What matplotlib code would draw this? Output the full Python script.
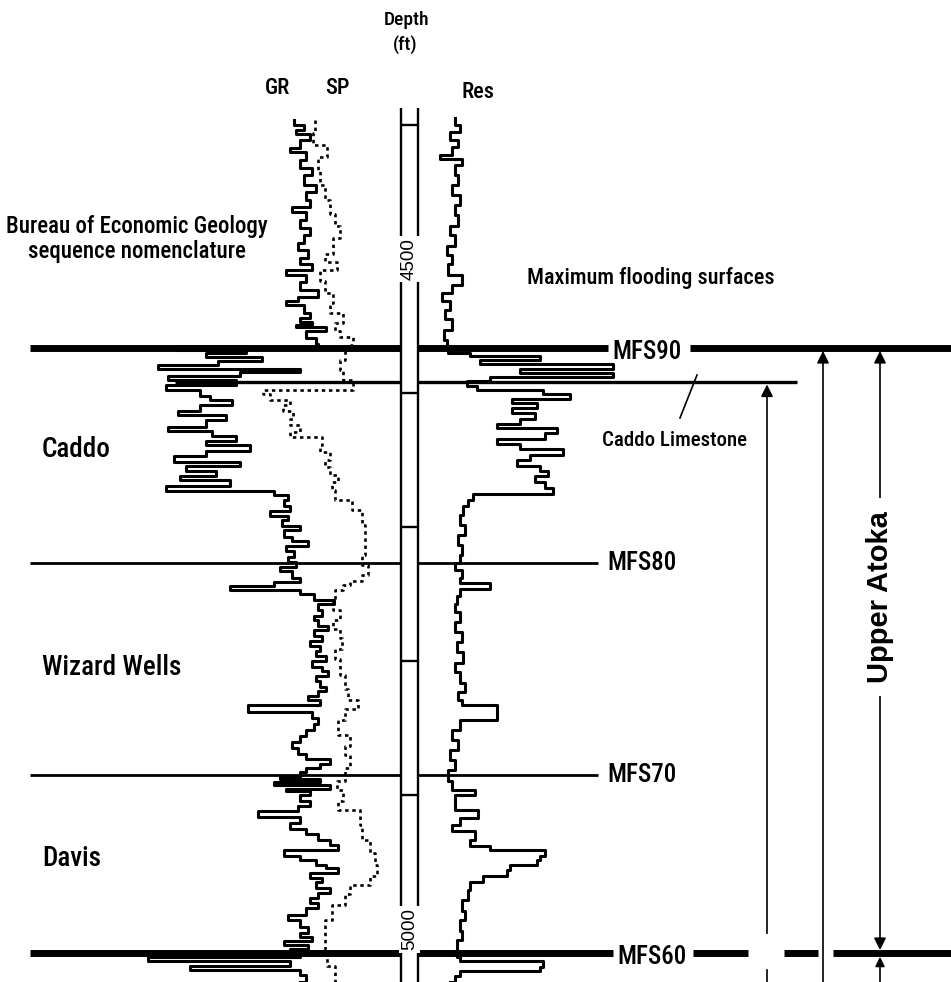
import matplotlib
matplotlib.use("Agg")
import matplotlib.pyplot as plt
from matplotlib import font_manager
from matplotlib.patches import Rectangle

# depth window of the panel (ft), top and bottom of the figure
D_TOP, D_BOTTOM = 4306.7, 5039.3
TRACK_TOP = 4387

# gamma ray (API)
gr_depth = [4396, 4400, 4404, 4407, 4411, 4417, 4420, 4426, 4432, 4437,
            4445, 4450, 4456, 4461, 4465, 4471, 4477, 4482, 4488, 4493,
            4499, 4504, 4508, 4512, 4517, 4523, 4528, 4531, 4534, 4540,
            4544, 4547, 4549, 4551, 4554, 4559, 4563,
            4566, 4568, 4570, 4573, 4576, 4579, 4582, 4584, 4587, 4590,
            4594, 4598, 4602, 4605, 4609, 4613, 4616, 4620, 4625, 4628,
            4632, 4636, 4639, 4643, 4647, 4651, 4654, 4658, 4662, 4665,
            4669, 4673, 4676,
            4680, 4684, 4688, 4692, 4695, 4699, 4702, 4707, 4710, 4714,
            4718, 4722, 4726, 4730, 4733, 4738, 4741, 4744, 4747, 4750,
            4754, 4757, 4762, 4766, 4769, 4774, 4777, 4781, 4785, 4789,
            4792, 4796, 4800, 4804, 4807, 4811, 4815, 4819, 4822, 4826,
            4829, 4833, 4838, 4842, 4847, 4851, 4856, 4860, 4865, 4869,
            4873, 4877, 4880, 4883,
            4886, 4888, 4890, 4892, 4895, 4897, 4900, 4904, 4908, 4912,
            4916, 4921, 4925, 4929, 4933, 4937, 4941, 4945, 4948, 4952,
            4954, 4958, 4962, 4965, 4969, 4973, 4977, 4980, 4984, 4989,
            4993, 4998, 5003, 5006, 5009, 5012, 5015, 5019, 5021, 5024,
            5027, 5030, 5034, 5039]
gr_api = [82, 87, 83, 90, 85, 80, 88, 85, 91, 87,
          93, 88, 90, 81, 88, 85, 90, 87, 84, 89,
          85, 91, 78, 88, 85, 94, 84, 78, 87, 90,
          85, 91, 83, 98, 88, 93, 94,
          24, 58, 38, 66, 44, 14, 85, 55, 19, 53,
          18, 35, 40, 51, 35, 24, 48, 38, 19, 41,
          53, 38, 60, 38, 22, 55, 28, 43, 25, 50,
          18, 72, 79,
          77, 80, 70, 79, 76, 85, 77, 81, 89, 78,
          82, 79, 83, 75, 81, 85, 72, 50, 85, 92,
          102, 94, 96, 92, 94, 99, 92, 96, 90, 95,
          93, 98, 91, 96, 99, 93, 95, 98, 94, 89,
          95, 59, 91, 94, 92, 88, 85, 81, 84, 88,
          100, 95, 88, 85,
          75, 95, 72, 100, 78, 90, 85, 90, 84, 64,
          85, 80, 88, 94, 100, 104, 77, 85, 93, 98,
          104, 90, 96, 93, 100, 94, 90, 94, 88, 79,
          85, 89, 85, 91, 77, 89, 80, 85, 9, 80,
          30, 85, 88, 85]

# spontaneous potential (mV)
sp_depth = [4396, 4406, 4415, 4424, 4434, 4445, 4456, 4466, 4475, 4484,
            4496, 4502, 4508, 4516, 4525, 4533, 4540, 4548, 4554, 4558,
            4564, 4569, 4575, 4583, 4590, 4595, 4598, 4601, 4605, 4609,
            4613, 4619, 4624, 4629, 4633, 4639, 4644, 4650, 4655, 4661,
            4666, 4672, 4680, 4687, 4698, 4710, 4721, 4728, 4736, 4740,
            4743, 4747, 4754, 4762, 4769, 4776, 4783, 4791, 4798, 4810,
            4821, 4829, 4836, 4844, 4855, 4863, 4870, 4880, 4889, 4896,
            4904, 4911, 4922, 4933, 4943, 4952, 4960, 4967, 4974, 4982,
            4993, 5004, 5015, 5027, 5039]
sp_mv = [-32.5, -33.5, -26.5, -31, -30, -27.5, -25, -22.5, -20, -23.5,
         -27.5, -21.5, -30, -27.5, -23.5, -25, -18.5, -22.5, -20, -13.5,
         -16, -17.5, -20, -18.5, -13.5, -13.5, -58.5, -55, -45, -48.5,
         -43.5, -45, -40, -45, -29, -30, -25, -27.5, -25, -21,
         -24, -22.5, -14, -9, -7.5, -7.5, -9, -6, -9, -15,
         -18.5, -22.5, -23.5, -20, -23.5, -20, -19, -22.5, -20, -17.5,
         -16, -11, -17.5, -21, -15, -17.5, -15, -17.5, -21.5, -18.5,
         -21, -10, -9, -5, -2.5, -1.5, -5, -15, -17.5, -24,
         -27.5, -27.5, -26.5, -22.5, -21]

# resistivity (ohm-m)
res_depth = [4395, 4400, 4405, 4411, 4416, 4422, 4425, 4430, 4437, 4445,
             4452, 4460, 4467, 4475, 4482, 4490, 4497, 4504, 4512, 4519,
             4525, 4531, 4538, 4545, 4553, 4560, 4565, 4570, 4572, 4575,
             4578, 4582, 4585, 4588, 4591, 4595, 4598, 4601, 4604, 4607,
             4611, 4615, 4619, 4623, 4626, 4630, 4634, 4638, 4642, 4646,
             4650, 4654, 4658, 4662, 4666, 4671, 4675, 4680, 4684, 4691,
             4698, 4706, 4713, 4721, 4727, 4732, 4738, 4742, 4746, 4751,
             4757, 4763, 4771, 4778, 4786, 4793, 4801, 4808, 4816, 4823,
             4829, 4833, 4840, 4844, 4851, 4859, 4866, 4874, 4881, 4889,
             4896, 4900, 4905, 4911, 4917, 4922, 4927, 4933, 4938, 4941,
             4945, 4948, 4952, 4956, 4960, 4965, 4971, 4978, 4986, 4993,
             5001, 5008, 5015, 5021, 5024, 5028, 5031, 5035, 5039]
res_ohmm = [12.5, 15, 10, 14, 11, 5, 16, 12.5, 14, 11,
            15, 12.5, 14, 10, 12.5, 8.5, 11, 9, 16, 11,
            6, 10, 7.5, 11, 7, 8.5, 9, 20, 55, 25,
            91.5, 45, 91.5, 30, 18.5, 23.5, 56.5, 70, 41, 53.5,
            41, 52.5, 45, 33.5, 63.5, 57.5, 33.5, 45, 66.5, 50,
            43.5, 55, 59, 52.5, 57.5, 61.5, 21.5, 19, 16.5, 15,
            17.5, 14, 16, 15, 12.5, 16, 15, 30, 15, 13.5,
            12.5, 15, 12.5, 16, 13.5, 16.5, 12.5, 15, 17.5, 14,
            16, 33.5, 33.5, 15, 11, 14, 10, 12.5, 9, 11,
            22.5, 12.5, 12.5, 24, 15, 11, 22.5, 20, 30, 57.5,
            55, 53.5, 40, 38.5, 26.5, 20, 19, 16, 17.5, 15,
            16, 13.5, 13.5, 15, 56.5, 55, 15, 12.5, 10]

# surfaces and intervals
mfs_names = ["MFS90", "MFS80", "MFS70", "MFS60"]
mfs_depths = [4566, 4727, 4885, 5018]
caddo_ls_depth = 4592
sequence_names = ["Caddo", "Wizard Wells", "Davis"]
sequence_depths = [4642, 4805, 4947]
depth_ticks = [4400, 4500, 4600, 4700, 4800, 4900, 5000]
depth_labels = ["4500", "5000"]


# condensed face like the original lettering, if one is installed
names = {f.name for f in font_manager.fontManager.ttflist}
narrow = next((n for n in ["Liberation Sans Narrow", "Roboto Condensed",
                           "Open Sans Condensed", "DejaVu Sans Condensed"]
               if n in names), None)
FONT = narrow or "Liberation Sans"
K = 1.0 if narrow else 0.82


def label(ax, x, y, s, size, **kw):
    kw.setdefault("ha", "center")
    kw.setdefault("va", "center")
    ax.text(x, y, s, fontsize=size * K, family=FONT, fontweight="medium",
            color="black", **kw)


fig = plt.figure(figsize=(9.51, 9.82), dpi=100)
W = 951.0

# background panel: horizontal position in pixels, vertical in depth
ax = fig.add_axes([0, 0, 1, 1])
ax.set_xlim(0, W)
ax.set_ylim(D_BOTTOM, D_TOP)
ax.axis("off")

# log tracks, each with its own scale
gr_ax = fig.add_axes([130 / W, 0, 300 / W, 1])
gr_ax.set_xlim(0, 150)
sp_ax = fig.add_axes([230 / W, 0, 150 / W, 1])
sp_ax.set_xlim(-75, 0)
res_ax = fig.add_axes([430 / W, 0, 200 / W, 1])
res_ax.set_xlim(0, 100)
for a in (gr_ax, sp_ax, res_ax):
    a.set_ylim(D_BOTTOM, D_TOP)
    a.axis("off")

gr_ax.plot(gr_api, gr_depth, drawstyle="steps-pre", color="black", lw=2.2)
sp_ax.plot(sp_mv, sp_depth, drawstyle="steps-pre", color="black", lw=1.9,
           linestyle=(0, (1.3, 1.4)))
res_ax.plot(res_ohmm, res_depth, drawstyle="steps-pre", color="black", lw=2.2)

# flooding surfaces
thick, thin = 5.0, 2.0
ax.hlines(mfs_depths[0], 30, 608, color="black", lw=thick)
ax.hlines(mfs_depths[0], 690, W, color="black", lw=thick)
ax.hlines(caddo_ls_depth, 175, 797, color="black", lw=2.4)
ax.hlines(mfs_depths[1], 30, 598, color="black", lw=thin)
ax.hlines(mfs_depths[2], 30, 598, color="black", lw=thin)
for x0, x1 in [(30, 613), (693, 748), (784, 818), (833, W)]:
    ax.hlines(mfs_depths[3], x0, x1, color="black", lw=thick)

label(ax, 647, mfs_depths[0] + 3, mfs_names[0], 18)
label(ax, 642, mfs_depths[1], mfs_names[1], 18)
label(ax, 642, mfs_depths[2], mfs_names[2], 18)
label(ax, 652, mfs_depths[3] + 3, mfs_names[3], 18)

# Caddo Limestone callout
ax.plot([697, 680], [4586.5, 4618.5], color="black", lw=1.2)
label(ax, 675, 4635, "Caddo Limestone", 15)

# depth track (open at the top)
ax.add_patch(Rectangle((401, TRACK_TOP), 17, D_BOTTOM - TRACK_TOP + 20,
                       facecolor="white", edgecolor="none", zorder=5))
ax.vlines([401, 418], TRACK_TOP, D_BOTTOM, color="black", lw=1.7, zorder=6)
ax.hlines(depth_ticks, 401, 418, color="black", lw=1.7, zorder=6)
for s in depth_labels:
    ax.text(409.5, float(s), s, rotation=90, ha="center", va="center",
            fontsize=13.5, family="Liberation Sans", zorder=7,
            bbox=dict(boxstyle="square,pad=0.12", fc="white", ec="none"))

# headers
label(ax, 407, 4321.5, "Depth", 14)
label(ax, 405, 4340, "(ft)", 14)
label(ax, 278, 4372.5, "GR", 16)
label(ax, 337, 4372.5, "SP", 16)
label(ax, 478, 4375.5, "Res", 16)
label(ax, 137, 4476, "Bureau of Economic Geology", 16.5)
label(ax, 137, 4494, "sequence nomenclature", 16.5)
label(ax, 651, 4514, "Maximum flooding surfaces", 16)
for name, d in zip(sequence_names, sequence_depths):
    label(ax, 42, d, name, 19.5, ha="left")

# interval arrows
arrow = dict(arrowstyle="-|>", color="black", lw=1.2, mutation_scale=18,
             shrinkA=0, shrinkB=0)
ax.annotate("", xy=(767, caddo_ls_depth + 1.5), xytext=(767, 5003),
            arrowprops=arrow)
ax.plot([767, 767], [5030, D_BOTTOM], color="black", lw=1.2)
ax.annotate("", xy=(823, mfs_depths[0] + 2.5), xytext=(823, D_BOTTOM),
            arrowprops=arrow)
ax.annotate("", xy=(880, mfs_depths[0] + 2.5), xytext=(880, 4752),
            arrowprops=arrow)
ax.annotate("", xy=(880, mfs_depths[3] - 2.5), xytext=(880, 4752),
            arrowprops=arrow)
ax.annotate("", xy=(880, mfs_depths[3] + 2.5), xytext=(880, D_BOTTOM),
            arrowprops=dict(arrow, mutation_scale=14))
ax.text(880, 4752, "Upper Atoka", rotation=90, ha="center", va="center",
        fontsize=21, fontweight="bold", family="Liberation Sans", zorder=4,
        bbox=dict(boxstyle="square,pad=0.45", fc="white", ec="none"))

fig.savefig("out.png", dpi=100)
